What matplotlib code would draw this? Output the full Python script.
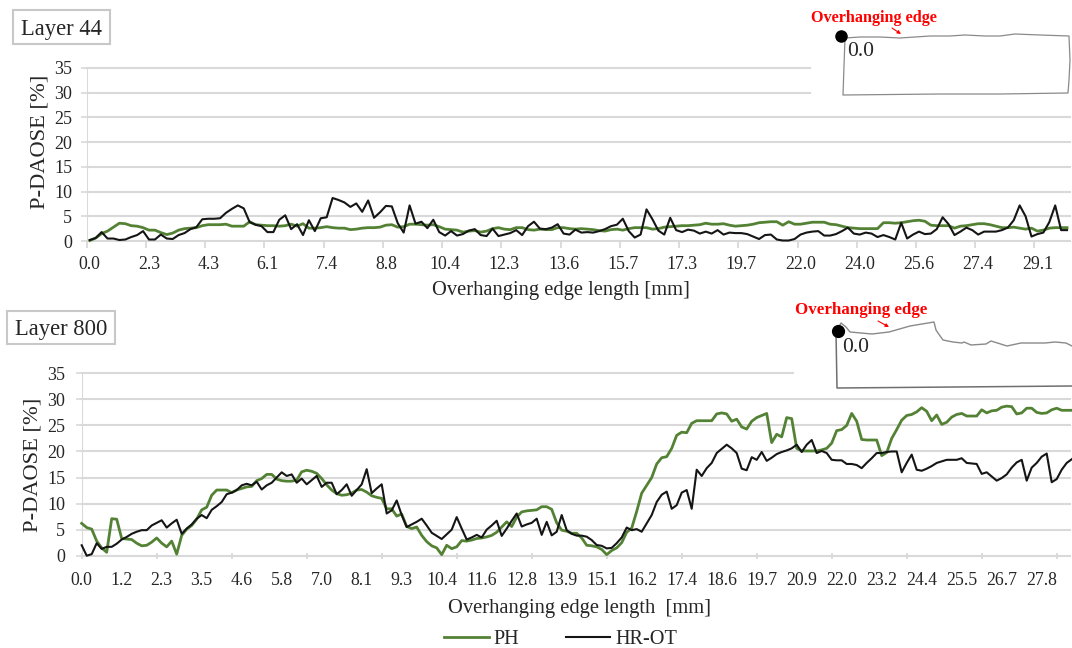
import matplotlib
matplotlib.use("Agg")
import matplotlib.pyplot as plt
from matplotlib.patches import Rectangle, FancyArrowPatch
import numpy as np

plt.rcParams['font.family'] = ['Liberation Serif', 'DejaVu Serif']

W, H = 1072, 648
GREEN = '#548235'
BLACK = '#151515'
GRID = '#d9d9d9'
TEXT = '#262626'

y_ticks = [0, 5, 10, 15, 20, 25, 30, 35]

labels_44 = ['0.0','2.3','4.3','6.1','7.4','8.8','10.4','12.3','13.6','15.7','17.3','19.7','22.0','24.0','25.6','27.4','29.1']
labels_800 = ['0.0','1.2','2.3','3.5','4.6','5.8','7.0','8.1','9.3','10.4','11.6','12.8','13.9','15.1','16.2','17.4','18.6','19.7','20.9','22.0','23.2','24.4','25.5','26.7','27.8']

ph_44 = [0.1,0.6,1.5,2.0,2.8,3.6,3.5,3.1,3.0,2.7,2.2,2.2,1.7,1.3,1.6,2.2,2.5,2.6,2.7,3.1,
         3.3,3.3,3.3,3.4,3.0,3.0,3.0,3.9,3.3,3.2,3.1,3.1,3.0,3.1,3.4,3.0,3.5,2.6,2.6,2.7,
         2.9,2.7,2.6,2.6,2.3,2.4,2.6,2.7,2.7,2.8,3.2,3.3,2.8,2.9,3.4,3.4,3.3,3.2,3.3,2.9,
         2.4,2.3,2.2,1.8,2.0,2.1,1.8,2.0,2.5,2.7,2.4,2.3,2.7,2.7,2.3,2.2,
         2.4,2.3,2.3,2.7,2.7,2.5,2.4,
         2.5,2.4,2.3,2.1,2.0,2.3,2.4,2.2,2.5,2.7,2.7,2.7,2.4,2.5,2.8,2.9,3.0,3.1,3.1,3.2,3.3,
         3.6,3.4,3.4,3.5,3.2,3.0,3.1,3.2,3.4,3.7,3.8,3.9,3.9,3.2,3.9,3.4,3.4,3.6,3.8,3.8,
         3.8,3.4,3.3,3.0,2.7,2.6,2.5,2.5,2.5,2.5,3.7,3.7,3.6,3.7,3.9,4.1,4.2,4.0,3.2,3.1,
         3.1,3.1,2.6,3.0,3.1,3.3,3.5,3.5,3.3,3.0,2.7,2.7,2.8,2.6,2.4,2.6,2.0,2.2,2.6,2.7,
         2.7,2.7]
ot_44 = [0.2,0.6,1.8,0.5,0.5,0.2,0.3,0.8,1.2,2.0,0.3,0.3,1.3,0.5,0.4,1.2,1.6,2.4,2.8,4.4,
         4.5,4.5,4.6,5.7,6.5,7.2,6.6,3.8,3.3,3.0,1.8,1.8,4.3,5.2,2.4,3.4,1.2,4.2,2.0,4.6,
         4.8,8.7,8.3,7.8,6.9,7.6,5.9,8.2,4.7,5.8,7.1,7.0,3.6,1.7,7.2,3.5,3.9,2.6,4.3,1.8,
         1.1,2.0,1.1,1.4,2.1,2.4,1.2,1.0,2.5,1.0,1.3,1.6,2.2,1.2,3.0,3.9,
         2.5,2.4,2.7,3.4,1.5,1.3,2.3,
         1.7,1.8,1.7,2.0,2.4,3.0,3.3,4.5,2.0,0.7,1.3,6.4,4.4,2.1,1.3,4.7,2.2,1.8,2.3,2.1,1.5,
         1.9,1.5,2.2,1.3,1.7,1.6,1.6,1.4,0.9,0.4,1.2,1.3,0.3,0.1,0.1,0.4,1.3,1.7,1.9,2.0,
         1.1,1.1,1.4,2.0,2.7,1.5,1.3,1.7,1.5,0.8,1.2,0.8,0.3,3.7,0.5,1.3,1.9,1.4,1.5,2.4,
         4.8,3.4,1.2,1.9,2.7,2.2,1.3,1.9,1.9,1.9,2.2,2.7,4.2,7.2,5.0,0.9,1.4,1.7,3.8,7.2,
         2.2,2.2]

ph_800 = [6.2,5.4,5.1,2.8,1.5,0.65,7.1,7.0,3.3,3.2,3.1,2.4,1.9,2.0,2.6,3.4,2.4,1.7,2.8,0.3,
          3.9,5.1,5.8,7.0,8.8,9.3,11.6,12.6,12.6,12.6,12.1,12.6,12.9,13.2,13.3,14.4,14.8,15.6,15.6,14.7,
          14.4,14.3,14.3,14.5,16.1,16.4,16.2,15.8,14.8,13.6,12.6,11.9,11.6,11.7,12.0,12.6,12.7,12.2,11.5,11.2,
          11.0,9.0,9.0,7.6,8.0,5.6,5.2,5.5,3.9,2.7,1.9,1.5,0.2,2.0,1.35,1.7,2.9,2.8,3.0,3.3,
          3.4,3.6,3.9,4.5,5.5,6.5,5.6,7.4,8.4,8.6,8.7,8.8,9.4,9.4,8.9,6.3,4.9,4.7,4.3,4.3,
          3.4,2.0,1.9,1.7,1.2,0.2,1.0,1.5,2.5,4.5,5.3,8.5,12.0,13.5,15.0,17.6,18.8,19.0,20.6,23.1,
          23.7,23.6,25.4,25.9,25.9,25.9,25.9,27.2,27.4,27.2,25.8,26.2,24.7,24.3,25.8,26.5,26.9,27.3,21.7,23.3,
          22.8,26.5,26.3,20.6,20.1,20.1,20.1,20.1,20.3,20.6,21.6,24.0,24.2,25.0,27.3,25.8,22.3,22.2,22.2,22.2,
          19.2,19.8,22.5,24.2,26.0,26.9,27.1,27.6,28.4,27.7,25.9,27.0,25.2,25.6,26.6,27.1,27.3,26.8,26.8,26.8,
          28.0,27.4,27.8,27.9,28.5,28.7,28.6,27.2,27.4,28.3,28.3,27.5,27.3,27.4,28.0,28.3,27.9,27.9,27.9]
ot_800 = [2.0,0.0,0.3,2.4,1.3,1.7,1.7,2.3,3.1,3.6,4.2,4.6,4.9,4.9,5.8,6.3,6.8,5.4,6.2,6.9,
          4.2,5.2,6.0,7.1,7.8,7.2,8.8,9.5,10.3,11.8,12.1,12.6,13.5,13.8,13.5,14.2,12.7,13.5,14.0,15.0,
          16.0,15.3,15.6,14.0,14.8,13.7,14.5,15.3,13.2,14.0,14.0,11.8,12.6,13.7,11.5,12.6,13.7,16.6,12.0,12.9,
          13.7,8.1,8.7,10.6,7.8,5.5,6.0,6.5,7.1,5.8,4.4,3.8,3.2,4.1,5.0,7.4,5.2,3.1,3.5,4.0,
          3.5,5.0,5.8,6.7,3.8,5.2,6.7,8.1,5.6,6.0,6.3,7.1,4.0,6.5,3.9,4.6,7.8,4.9,4.2,3.85,
          3.85,3.65,3.0,2.05,1.9,1.4,1.5,2.4,3.5,5.4,4.9,5.1,4.6,6.2,7.8,10.3,11.7,12.3,9.0,9.7,
          12.1,12.6,9.0,16.5,15.3,16.8,17.8,19.7,20.5,21.3,20.6,19.7,16.7,16.4,18.9,18.4,19.9,18.2,18.8,19.5,
          19.9,20.2,20.6,21.3,19.9,21.3,22.2,19.7,20.1,19.7,18.4,18.3,18.3,17.6,17.6,17.4,16.8,17.8,18.7,19.7,
          19.7,19.9,20.0,20.0,16.0,17.8,19.4,16.5,16.3,16.7,17.2,17.8,18.1,18.4,18.4,18.4,18.7,17.8,17.7,17.6,
          15.7,16.0,15.2,14.4,14.9,15.6,16.9,17.9,18.4,14.4,16.9,17.8,19.0,19.6,14.1,14.7,16.5,17.8,18.5]

outline_800_x = [836,841,846,850,872,889,910,934,936,938,943,953,962,964,971,986,991,1007,1021,1031,1045,1055,1066,1072]
outline_800_y = [332,323,327,332,334,332,326,322,330,333,340,342,343,342,345,344,341,346,343,343,343,342,343,346]
outline_44_x = [845,860,880,900,915,930,950,965,985,1000,1015,1040,1069,1070,1069,1068,1000,940,843,844,845]
outline_44_y = [38,37,37,38,37,36,36,35,36,36,34,35,36,60,80,93,94,94,95,66,38]


def px_axes(fig, x0, x1, y_top, y_bot):
    return fig.add_axes([x0 / W, 1 - y_bot / H, (x1 - x0) / W, (y_bot - y_top) / H])


def draw_panel(ax, x, ph, ot, xlim, label_pos, labels, tick_pos, short, short_frac, ytick_pad, xtick_pad):
    ax.set_xlim(*xlim)
    ax.set_ylim(0, 35)
    for s in ax.spines.values():
        s.set_visible(False)
    for v in y_ticks:
        xm = short_frac if v in short else 1
        ax.axhline(v, 0, xm, color=GRID, lw=1.5, zorder=1, clip_on=False)
    ax.axvline(0, color=GRID, lw=1.5, zorder=1)
    ax.plot(x, ph, color=GREEN, lw=2.0, zorder=3, clip_on=False, solid_joinstyle='round')
    ax.plot(x, ot, color=BLACK, lw=1.5, zorder=4, clip_on=False, solid_joinstyle='round')
    ax.set_yticks(y_ticks)
    ax.set_yticklabels([str(v) for v in y_ticks], fontsize=13, color=TEXT)
    ax.tick_params(axis='y', length=4, width=1.2, color=GRID, pad=ytick_pad)
    ax.set_xticks(label_pos)
    ax.set_xticklabels(labels, fontsize=12.8, color=TEXT)
    ax.set_xticks(tick_pos, minor=True)
    ax.xaxis.remove_overlapping_locs = False
    ax.tick_params(axis='x', which='major', length=0, pad=xtick_pad)
    ax.tick_params(axis='x', which='minor', length=5, width=1.3, color=GRID)
    ax.patch.set_alpha(0)


fig = plt.figure(figsize=(W / 100, H / 100), dpi=100, facecolor='white')

# Layer 44 panel
x44 = np.arange(len(ph_44)) + 0.5
n44 = len(ph_44)
ax1 = px_axes(fig, 86.8, 1070, 68, 241)
draw_panel(ax1, x44, ph_44, ot_44, (0, n44), x44[::10][:len(labels_44)], labels_44,
           np.arange(0, n44, 10), (30, 35), (810 - 86.8) / (1070 - 86.8), 6.5, 10.5)

# Layer 800 panel
x800 = np.arange(len(ph_800))
ax2 = px_axes(fig, 81.7, 1070, 373.3, 555.7)
draw_panel(ax2, x800, ph_800, ot_800, (0, (1070 - 81.7) / 5), x800[::8][:len(labels_800)], labels_800,
           np.arange(0, 198, 15), (35,), (793 - 81.7) / (1070 - 81.7), 8, 11.5)
ax2.tick_params(axis='x', which='minor', length=5, direction='inout')

# Overlay in pixel coordinates for annotations and insets
ov = fig.add_axes([0, 0, 1, 1], zorder=10)
ov.set_xlim(0, W)
ov.set_ylim(H, 0)
ov.axis('off')

ov.text(40, 142, 'P-DAOSE [%]', rotation=90, ha='center', va='center', fontsize=16.2, color=TEXT)
ov.text(33, 465, 'P-DAOSE [%]', rotation=90, ha='center', va='center', fontsize=16.2, color=TEXT)
ov.text(561, 290, 'Overhanging edge length [mm]', ha='center', va='center', fontsize=14.8, color=TEXT)
ov.text(579, 608, 'Overhanging edge length  [mm]', ha='center', va='center', fontsize=14.8, color=TEXT)

for (bx, by, bw, bh, tx, ty, s) in [(13, 10, 97, 34, 21, 30, 'Layer 44'), (7, 311, 108, 33, 15, 330, 'Layer 800')]:
    ov.add_patch(Rectangle((bx, by), bw, bh, fc='white', ec='#c8c8c8', lw=1.5))
    ov.text(tx, ty, s, ha='left', va='center', fontsize=16.3, color=TEXT)

# Insets
ov.plot(outline_44_x, outline_44_y, color='#8a8a8a', lw=0.9)
ov.plot(outline_800_x, outline_800_y, color='#8a8a8a', lw=1.0)
ov.plot([836, 837, 1072], [332, 388, 386], color='#6f6f6f', lw=1.1)
ov.plot([841], [36], 'o', color='black', ms=8)
ov.plot([838], [331], 'o', color='black', ms=8.5)
ov.text(861, 52, '0.0', ha='center', va='center', fontsize=15.5, color=TEXT)
ov.text(856, 348, '0.0', ha='center', va='center', fontsize=15.5, color=TEXT)
ov.text(874, 18, 'Overhanging edge', ha='center', va='center', fontsize=11.7, color='#ff0000', fontweight='bold')
ov.text(861, 310, 'Overhanging edge', ha='center', va='center', fontsize=12.2, color='#ff0000', fontweight='bold')
for a, b in [((892, 28), (901, 34)), ((878, 321), (889, 327))]:
    ov.add_patch(FancyArrowPatch(a, b, arrowstyle='-|>', mutation_scale=5, color='#ff0000', lw=0.8, shrinkA=0, shrinkB=0))

# Legend
ov.plot([444, 489], [637, 637], color=GREEN, lw=2.0)
ov.text(493, 639, 'PH', ha='left', va='center', fontsize=14.6, color=TEXT)
ov.plot([566, 610], [637, 637], color=BLACK, lw=1.5)
ov.text(615, 639, 'HR-OT', ha='left', va='center', fontsize=14.6, color=TEXT)

fig.savefig('out.png', dpi=100)
print(len(ph_44), len(ot_44), len(ph_800), len(ot_800))
